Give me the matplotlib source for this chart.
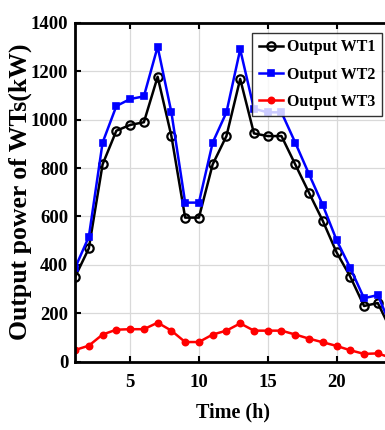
import matplotlib
matplotlib.use("Agg")
import matplotlib.pyplot as plt

hours = list(range(1, 25))
wt1 = [350, 468, 815, 954, 978, 989, 1177, 932, 595, 595, 815, 932,
       1168, 943, 932, 932, 815, 698, 582, 452, 351, 230, 242, 125]
wt2 = [387, 516, 905, 1056, 1085, 1096, 1301, 1030, 657, 657, 905, 1030,
       1290, 1045, 1030, 1030, 905, 775, 647, 503, 387, 262, 275, 140]
wt3 = [48, 66, 112, 132, 134, 134, 161, 128, 81, 81, 112, 128,
       158, 128, 128, 128, 112, 95, 80, 65, 47, 32, 34, 15]

plt.rcParams["font.family"] = ["Liberation Serif", "DejaVu Serif"]
plt.rcParams["font.weight"] = "bold"

fig = plt.figure(figsize=(3.85, 4.3), dpi=100)
ax = fig.add_axes([0.195, 0.159, 0.822, 0.788])

ax.plot(hours, wt1, color="black", lw=1.8, marker="o", ms=6,
        mfc="none", mew=1.6, label="Output WT1")
ax.plot(hours, wt2, color="#0000ff", lw=1.8, marker="s", ms=4.5,
        mfc="#0000ff", mew=1.2, label="Output WT2")
ax.plot(hours, wt3, color="#ff0000", lw=1.8, marker="o", ms=4.5,
        mfc="#ff0000", mew=1.2, label="Output WT3")

ax.set_xlim(1, 24)
ax.set_ylim(0, 1400)
ax.set_xticks([5, 10, 15, 20])
ax.set_yticks(range(0, 1401, 200))
ax.grid(True, color="#d9d9d9", lw=0.9)
ax.tick_params(direction="in", length=4, width=1.5, top=True, right=True,
               labelsize=13.5)
ax.tick_params(axis="x", pad=9)
ax.tick_params(axis="y", pad=5)
for s in ax.spines.values():
    s.set_linewidth(2)

ax.set_xlabel("Time (h)", fontsize=14.5, fontweight="bold", labelpad=8)
ax.set_ylabel("Output power of WTs(kW)", fontsize=18.5, fontweight="bold")
ax.yaxis.set_label_coords(-0.135, 0.5)

leg = ax.legend(loc="upper left", bbox_to_anchor=(0.56, 0.97),
                fontsize=11.5, handlelength=1.5, handletextpad=0.3,
                borderpad=0.4, labelspacing=0.7, frameon=True,
                fancybox=False, borderaxespad=0)
leg.get_frame().set_edgecolor("black")
leg.get_frame().set_linewidth(1.0)

fig.savefig("out.png", dpi=100)
